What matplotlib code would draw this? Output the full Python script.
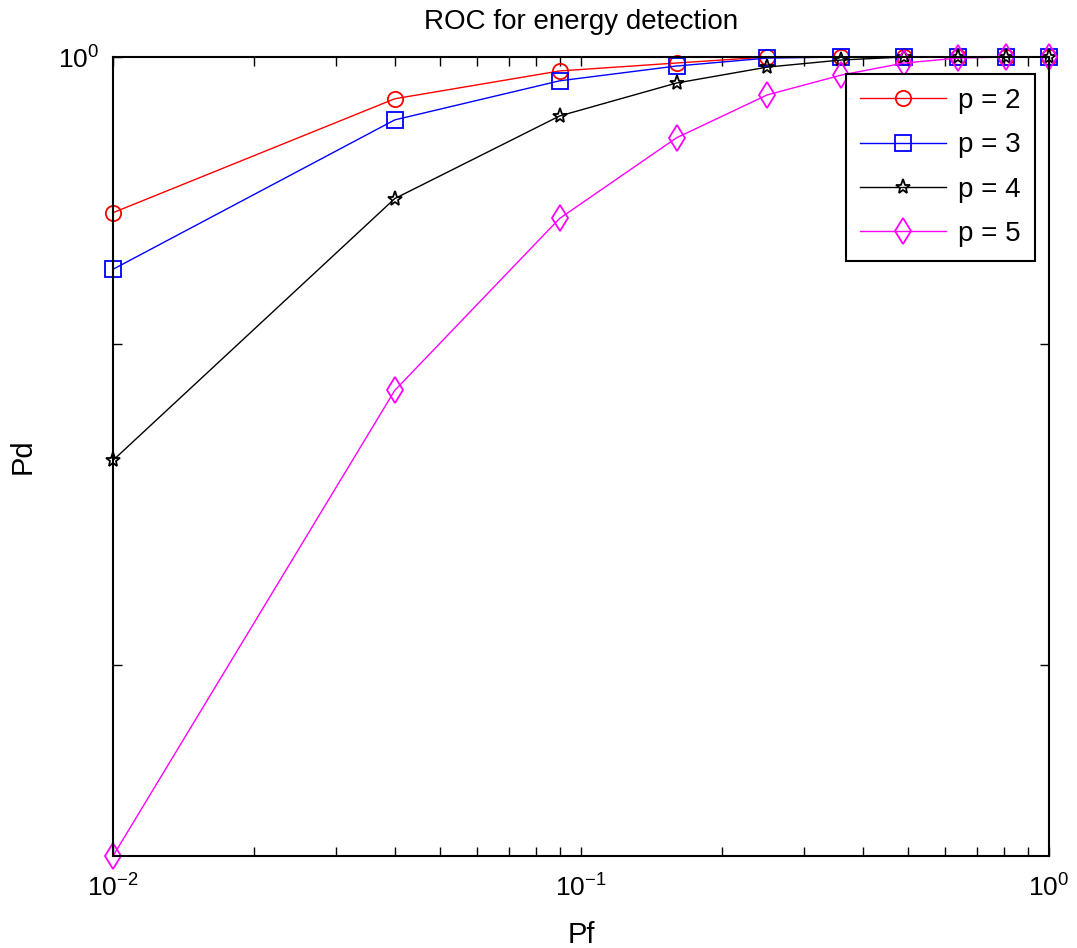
import matplotlib.pyplot as plt
from matplotlib.ticker import FixedLocator, NullFormatter, LogLocator

plt.rcParams['font.family'] = ['Liberation Sans', 'DejaVu Sans']
plt.rcParams['mathtext.default'] = 'regular'

# False alarm probabilities
pf = [0.01, 0.04, 0.09, 0.16, 0.25, 0.36, 0.49, 0.64, 0.81, 1.0]

# Detection probabilities per order p
pd_p2 = [0.9445, 0.9848, 0.9949, 0.9978, 1.0, 1.0, 1.0, 1.0, 1.0, 1.0]
pd_p3 = [0.9251, 0.9772, 0.9913, 0.9967, 0.9996, 1.0, 1.0, 1.0, 1.0, 1.0]
pd_p4 = [0.8625, 0.9494, 0.9786, 0.9905, 0.9963, 0.9989, 1.0, 1.0, 1.0, 1.0]
pd_p5 = [0.746, 0.8849, 0.9425, 0.9708, 0.9862, 0.9934, 0.9978, 0.9996, 1.0, 1.0]

fig = plt.figure(figsize=(10.77, 9.48), dpi=100)
ax = fig.add_axes([113 / 1077, 1 - 856 / 948, 936 / 1077, 799 / 948])

style = dict(mfc='none', lw=1.0, clip_on=False, mew=1.3)
ax.loglog(pf, pd_p2, '-o', color='#ff0000', ms=11, label='p = 2', **style)
ax.loglog(pf, pd_p3, '-s', color='#0000ff', ms=12, label='p = 3', **style)
ax.loglog(pf, pd_p4, '-*', color='black', ms=11, label='p = 4', **style)
ax.loglog(pf, pd_p5, '-d', color='#ff00ff', ms=13, label='p = 5', **style)

ax.set_xlim(0.01, 1.0)
ax.set_ylim(0.746, 1.0)

ax.xaxis.set_major_locator(FixedLocator([0.01, 0.1, 1.0]))
ax.xaxis.set_minor_locator(LogLocator(base=10, subs=range(2, 10)))
ax.xaxis.set_minor_formatter(NullFormatter())
ax.yaxis.set_major_locator(FixedLocator([1.0]))
ax.yaxis.set_minor_locator(FixedLocator([0.8, 0.9]))
ax.yaxis.set_minor_formatter(NullFormatter())
ax.set_yticklabels([r'$10^{0}$'])
ax.set_xticklabels([r'$10^{-2}$', r'$10^{-1}$', r'$10^{0}$'])

ax.tick_params(which='both', direction='in', top=True, right=True,
               labelsize=19, width=1.0, length=6.5, pad=10)
ax.tick_params(axis='x', which='major', pad=13)
for s in ax.spines.values():
    s.set_linewidth(1.5)

ax.set_title('ROC for energy detection', fontsize=20, pad=20)
ax.set_xlabel('Pf', fontsize=21, labelpad=14)
ax.set_ylabel('Pd', fontsize=21)
ax.yaxis.set_label_coords(-0.082, 0.5)

leg = ax.legend(loc='upper right', bbox_to_anchor=(0.985, 0.9787), borderaxespad=0,
                fontsize=20, fancybox=False, edgecolor='black', framealpha=1,
                handlelength=3.1, handletextpad=0.45, borderpad=0.5,
                labelspacing=0.66)
leg.get_frame().set_linewidth(1.5)

fig.savefig('out.png', dpi=100)
